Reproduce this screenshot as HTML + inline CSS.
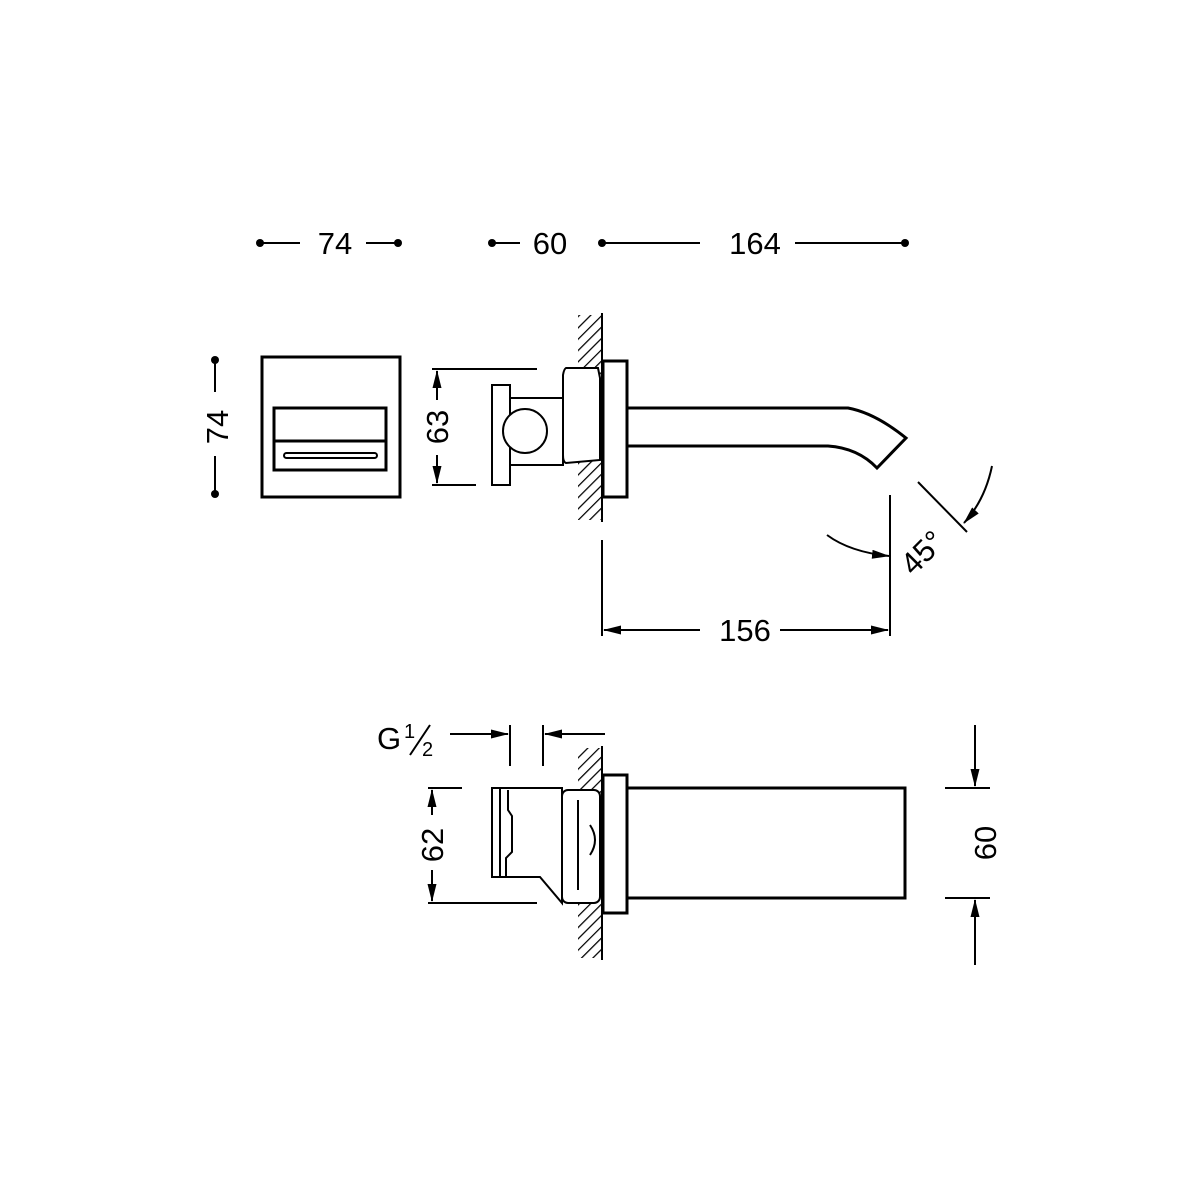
<!DOCTYPE html>
<html><head><meta charset="utf-8"><style>body{margin:0;background:#fff}svg{display:block}text{font-family:"Liberation Sans",sans-serif;font-size:31px;fill:#000}</style></head>
<body>
<svg width="1200" height="1200" viewBox="0 0 1200 1200" xmlns="http://www.w3.org/2000/svg">
<defs>
<pattern id="h" width="8" height="8" patternUnits="userSpaceOnUse" patternTransform="rotate(45)">
<line x1="0" y1="0" x2="0" y2="8" stroke="#000" stroke-width="2.5"/></pattern>
<marker id="a" markerWidth="18" markerHeight="9" refX="17" refY="4.5" orient="auto" markerUnits="userSpaceOnUse"><path d="M0,0 L18,4.5 L0,9 z" fill="#000"/></marker>
</defs>
<g stroke="#000" stroke-width="2" fill="none">
<line x1="262" y1="243" x2="300" y2="243"/><line x1="366" y1="243" x2="396" y2="243"/>
<line x1="494" y1="243" x2="520" y2="243"/><line x1="600" y1="243" x2="700" y2="243"/>
<line x1="795" y1="243" x2="905" y2="243"/>
<rect x="262" y="357" width="138" height="140" stroke-width="3"/>
<rect x="274" y="408" width="112" height="62" stroke-width="3"/>
<line x1="274" y1="441" x2="386" y2="441" stroke-width="3"/>
<rect x="284" y="453" width="93" height="5" rx="2.5"/>
<line x1="215" y1="362" x2="215" y2="392"/><line x1="215" y1="456" x2="215" y2="493"/>
<rect x="578" y="315" width="24" height="205" fill="url(#h)" stroke="none"/>
<line x1="602" y1="313" x2="602" y2="522"/>
<rect x="603" y="361" width="24" height="136" fill="#fff" stroke-width="3"/>
<path d="M627,408 L848,408 Q875,413 906,438 L877,468 Q858,448 828,446 L627,446" stroke-width="3"/>
<path d="M566,368 L598,368 L600,378 L600,460 L566,463 Q563,462 563,455 L563,375 Q564,369 566,368 z" fill="#fff"/>
<rect x="510" y="398" width="53" height="67" fill="#fff"/>
<rect x="492" y="385" width="18" height="100" fill="#fff"/>
<circle cx="525" cy="431" r="22" fill="#fff"/>
<line x1="432" y1="369" x2="537" y2="369"/><line x1="432" y1="485" x2="476" y2="485"/>
<line x1="437" y1="400" x2="437" y2="371" marker-end="url(#a)"/><line x1="437" y1="455" x2="437" y2="483" marker-end="url(#a)"/>
<line x1="602" y1="540" x2="602" y2="636"/><line x1="890" y1="495" x2="890" y2="636"/>
<line x1="700" y1="630" x2="604" y2="630" marker-end="url(#a)"/><line x1="780" y1="630" x2="888" y2="630" marker-end="url(#a)"/>
<line x1="918" y1="482" x2="967" y2="532"/>
<path d="M992,466 Q985,500 964,523" marker-end="url(#a)"/>
<path d="M827,535 Q850,552 889,556" marker-end="url(#a)"/>
<line x1="450" y1="734" x2="508" y2="734" marker-end="url(#a)"/><line x1="510" y1="725" x2="510" y2="766"/>
<line x1="543" y1="725" x2="543" y2="766"/><line x1="605" y1="734" x2="545" y2="734" marker-end="url(#a)"/>
<rect x="578" y="748" width="24" height="210" fill="url(#h)" stroke="none"/>
<line x1="602" y1="746" x2="602" y2="960"/>
<rect x="603" y="775" width="24" height="138" fill="#fff" stroke-width="3"/>
<rect x="627" y="788" width="278" height="110" stroke-width="3"/>
<path d="M492,788 L562,788 L562,903 L540,877 L492,877 z" fill="#fff"/>
<path d="M500,788 L500,877 M508,790 L508,810 L512,816 L512,852 L506,858 L506,877" />
<rect x="562" y="790" width="38" height="113" rx="6" fill="#fff"/>
<line x1="578" y1="800" x2="578" y2="890"/>
<path d="M590,825 Q600,840 590,855" />
<line x1="428" y1="788" x2="462" y2="788"/><line x1="428" y1="903" x2="537" y2="903"/>
<line x1="432" y1="815" x2="432" y2="790" marker-end="url(#a)"/><line x1="432" y1="870" x2="432" y2="901" marker-end="url(#a)"/>
<line x1="945" y1="788" x2="990" y2="788"/><line x1="945" y1="898" x2="990" y2="898"/>
<line x1="975" y1="725" x2="975" y2="786" marker-end="url(#a)"/><line x1="975" y1="965" x2="975" y2="900" marker-end="url(#a)"/>
</g>
<g fill="#000">
<circle cx="260" cy="243" r="4"/><circle cx="398" cy="243" r="4"/>
<circle cx="492" cy="243" r="4"/><circle cx="602" cy="243" r="4"/><circle cx="905" cy="243" r="4"/>
<circle cx="215" cy="360" r="4"/><circle cx="215" cy="494" r="4"/>
</g>
<text x="335" y="254" text-anchor="middle">74</text>
<text x="550" y="254" text-anchor="middle">60</text>
<text x="755" y="254" text-anchor="middle">164</text>
<text transform="translate(228,427) rotate(-90)" text-anchor="middle">74</text>
<text transform="translate(448,427) rotate(-90)" text-anchor="middle">63</text>
<text x="745" y="641" text-anchor="middle">156</text>
<text transform="translate(930,560) rotate(-45)" text-anchor="middle">45°</text>
<text x="377" y="749">G</text>
<text x="404" y="738" style="font-size:20px">1</text>
<line x1="410" y1="755" x2="430" y2="725" stroke="#000" stroke-width="2"/>
<text x="422" y="756" style="font-size:20px">2</text>
<text transform="translate(443,845) rotate(-90)" text-anchor="middle">62</text>
<text transform="translate(996,843) rotate(-90)" text-anchor="middle">60</text>
</svg>
</body></html>
